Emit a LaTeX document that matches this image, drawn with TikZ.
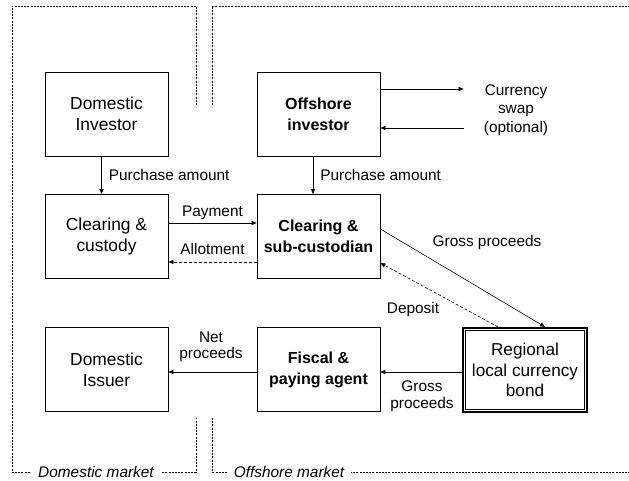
\documentclass[tikz,border=0pt]{standalone}
\usepackage{fontspec}
\setmainfont{Liberation Sans}
\usetikzlibrary{arrows.meta}
\newcommand{\boxfont}{\fontsize{17.4}{21}\selectfont}
\newcommand{\bboxfont}{\fontsize{16}{21}\selectfont\bfseries}
\newcommand{\labfont}{\fontsize{15.4}{16.5}\selectfont}
\tikzset{
  % plain party box
  pbox/.style={rectangle, draw, line width=0.8pt, minimum width=123pt, minimum height=84pt,
               align=center, font=\boxfont, inner sep=2pt},
  % offshore party box, bold text
  obox/.style={pbox, font=\bboxfont},
  % flow arrow
  flow/.style={-{Triangle[length=5pt,width=4pt]}, line width=0.6pt},
  % dashed flow arrow
  dflow/.style={flow, dash pattern=on 3pt off 2pt},
  % flow label
  lab/.style={font=\labfont, align=center, inner sep=2pt},
  % market border
  mktline/.style={line width=0.6pt, dash pattern=on 2pt off 1.2pt},
  % market name
  mktlab/.style={font=\labfont\itshape, fill=white, inner xsep=7pt, inner ysep=1pt},
}
\begin{document}
\begin{tikzpicture}[x=1pt,y=-1pt]
  \useasboundingbox (0,0) rectangle (629,481);

  % market borders
  \draw[mktline] (196,105) -- (196,6) -- (12,6) -- (12,472) -- (196,472) -- (196,418);
  \draw[mktline] (212,105) -- (212,6) -- (629,6);
  \draw[mktline] (212,418) -- (212,472) -- (629,472);
  \node[mktlab] (dmkt) at (96,472) {Domestic market};
  \node[mktlab] (omkt) at (289,472) {Offshore market};

  % parties
  \node[pbox] (dinv) at (106.5,114) {Domestic\\Investor};
  \node[obox] (oinv) at (318.5,114) {Offshore\\investor};
  \node[pbox] (ccus) at (106.5,236.5) {Clearing \&\\custody};
  \node[obox] (csub) at (318.5,236.5) {Clearing \&\\sub-custodian};
  \node[pbox] (diss) at (106.5,369.5) {Domestic\\Issuer};
  \node[obox] (fpa) at (318.5,369.5) {Fiscal \&\\paying agent};
  \node[pbox, line width=2.2pt, minimum width=124pt, minimum height=84pt,
        font=\fontsize{17.2}{20.5}\selectfont] (bond) at (525,370) {Regional\\local currency\\bond};
  \draw[line width=0.7pt] ([xshift=3.6pt,yshift=-3.6pt]bond.north west) rectangle ([xshift=-3.6pt,yshift=3.6pt]bond.south east);
  \node[lab, inner xsep=20pt, font=\fontsize{15.4}{18.5}\selectfont] (swap) at (516,110) {Currency\\swap\\(optional)};

  % flows
  \draw[flow] ([xshift=-5pt]dinv.south) -- ([xshift=-5pt]ccus.north)
    node[midway, right=5pt, lab] {Purchase amount};
  \draw[flow] ([xshift=-5.5pt]oinv.south) -- ([xshift=-5.5pt]csub.north)
    node[midway, right=5pt, lab] {Purchase amount};
  \draw[flow] ([yshift=25pt]oinv.east) -- ([yshift=21pt]swap.west);
  \draw[flow] ([yshift=-18pt]swap.west) -- ([yshift=-14pt]oinv.east);
  \draw[flow] ([yshift=13.5pt]ccus.east) -- ([yshift=13.5pt]csub.west)
    node[midway, above=1pt, lab] {Payment};
  \draw[dflow] ([yshift=-25.5pt]csub.west) -- ([yshift=-25.5pt]ccus.east)
    node[midway, above=5.5pt, lab] {Allotment};
  \draw[flow] ([yshift=7.5pt]csub.east) -- ([xshift=20pt]bond.north);
  \draw[dflow] ([xshift=-27pt]bond.north) -- ([yshift=-26.5pt]csub.east);
  \draw[flow] ([yshift=-2pt]bond.west) -- ([yshift=-2.5pt]fpa.east);
  \draw[flow] ([yshift=-2.5pt]fpa.west) -- ([yshift=-2.5pt]diss.east);
  \node[lab] (gpup) at (487,243) {Gross proceeds};
  \node[lab] (dep) at (413,310) {Deposit};
  \node[lab] (gplow) at (422,396) {Gross\\proceeds};
  \node[lab] (netp) at (211,347) {Net\\proceeds};
\end{tikzpicture}
\end{document}
